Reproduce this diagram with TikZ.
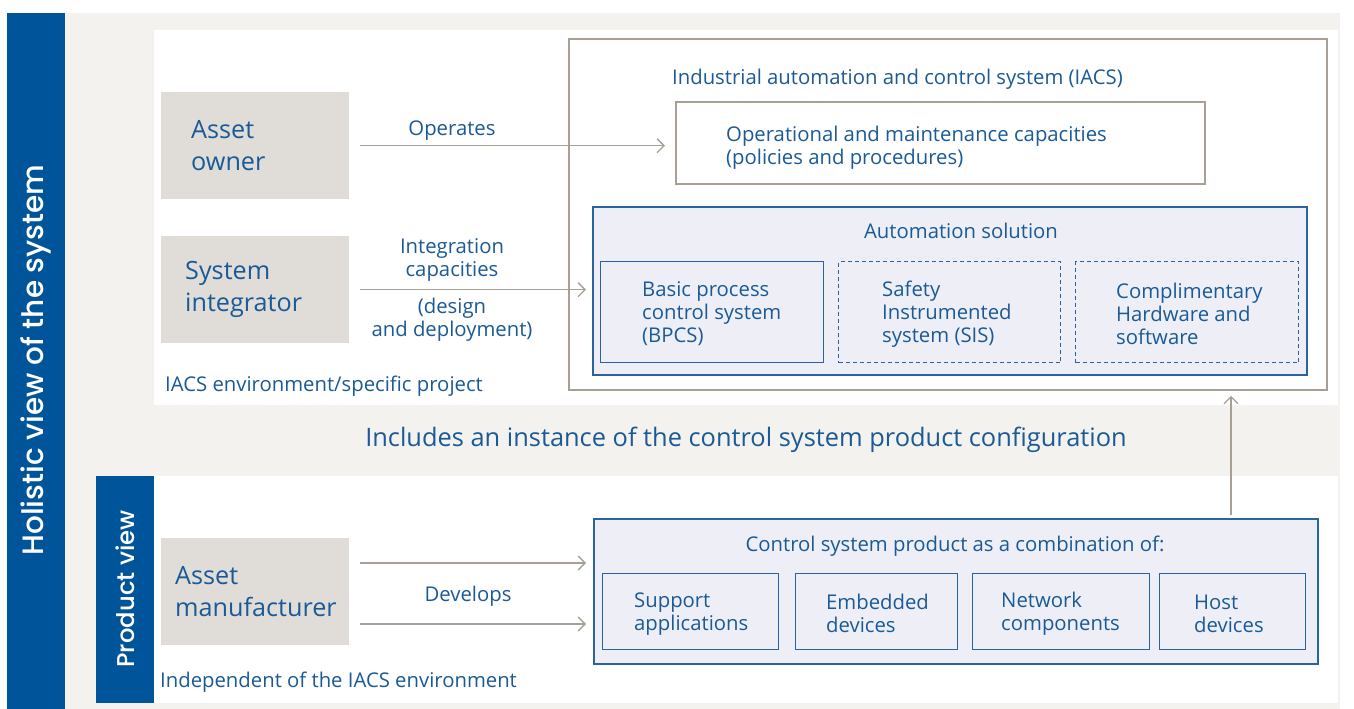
\documentclass[tikz,border=0pt]{standalone}
\usepackage{fontspec}
\setmainfont{Open Sans}
\newfontfamily\rotfont{Poppins Medium}
\usetikzlibrary{arrows.meta,positioning}

\definecolor{barblue}{HTML}{00559A}
\definecolor{txtblue}{HTML}{1A5A96}
\definecolor{bggrey}{HTML}{F3F2EE}
\definecolor{actorfill}{HTML}{E0DDD8}
\definecolor{linegrey}{HTML}{A8A095}
\definecolor{lav}{HTML}{EEEEF7}
\definecolor{boxblue}{HTML}{2A64A0}

\newcommand{\smalltxt}{\fontsize{20.3}{23}\selectfont}
\newcommand{\bigtxt}{\fontsize{25.2}{32}\selectfont}
\newcommand{\midtxt}{\fontsize{25.4}{28}\selectfont}

\begin{document}
\begin{tikzpicture}[x=1pt,y=-1pt,
  actor/.style={fill=actorfill, anchor=north west, minimum width=188pt, minimum height=107pt, inner sep=0pt},
  bigtext/.style={font=\bigtxt, text=txtblue, align=left, inner sep=0pt},
  smalltext/.style={font=\smalltxt, text=txtblue, align=left, inner sep=0pt, yshift=-2pt},
  greybox/.style={draw=linegrey, line width=1.8pt, fill=white, anchor=north west, inner sep=0pt},
  lavbox/.style={draw=boxblue, line width=1.5pt, fill=lav, anchor=north west, inner sep=0pt},
  subbox/.style={draw=boxblue, line width=1.2pt, fill=lav, anchor=north west, inner sep=0pt},
  dashbox/.style={subbox, dash pattern=on 4pt off 3pt},
  flow/.style={draw=linegrey, line width=1.3pt, -{Straight Barb[length=7pt,width=14pt]}},
  sidetext/.style={rotate=90, text=white, font=\rotfont#1},
]
\useasboundingbox (0,0) rectangle (1354,709);

% Backgrounds
\fill[barblue] (7,13) rectangle (65,709);
\fill[bggrey] (65,13) rectangle (1340,709);
\fill[white] (154,30) rectangle (1338,405);
\fill[white] (154,476) rectangle (1338,703);
\fill[barblue] (96,476) rectangle (154,703);

\node[sidetext=\fontsize{29.5}{33}\selectfont] (holistic) at (36,360) {Holistic view of the system};
\node[sidetext=\fontsize{24.3}{27}\selectfont] (prodview) at (125,589) {Product view};

% IACS environment
\node[actor] (owner) at (161,92) {};
\node[bigtext, right=30pt of owner.west] (ownertxt) {Asset\\owner};
\node[actor] (integ) at (161,236) {};
\node[bigtext, right=24pt of integ.west] (integtxt) {System\\integrator};
\node[smalltext, anchor=west] (envtxt) at (165,384) {IACS environment/specific project};

\node[greybox, minimum width=758pt, minimum height=351pt] (iacs) at (568,38) {};
\node[smalltext, anchor=west] (iacstxt) at (672,77) {Industrial automation and control system (IACS)};
\node[greybox, minimum width=529pt, minimum height=82pt] (ops) at (675,101) {};
\node[smalltext, right=51pt of ops.west, yshift=-3pt] (opstxt) {Operational and maintenance capacities\\(policies and procedures)};

\node[lavbox, minimum width=714pt, minimum height=168pt] (auto) at (592,206) {};
\node[smalltext] (autotxt) at (961,229) {Automation solution};
\node[subbox, minimum width=223pt, minimum height=101pt] (bpcs) at (600,261) {};
\node[smalltext, right=42pt of bpcs.west] (bpcstxt) {Basic process\\control system\\(BPCS)};
\node[dashbox, minimum width=222pt, minimum height=101pt] (sis) at (838,261) {};
\node[smalltext, right=44pt of sis.west] (sistxt) {Safety\\Instrumented\\system (SIS)};
\node[dashbox, minimum width=223pt, minimum height=101pt] (comp) at (1075,261) {};
\node[smalltext, right=41pt of comp.west] (comptxt) {Complimentary\\Hardware and\\software};

% Relations
\draw[flow, shorten <=11pt, shorten >=10pt] (owner.east) -- (owner.east -| ops.west);
\node[smalltext] (optxt) at (452,129) {Operates};
\draw[flow, shorten <=11pt, shorten >=6pt] (integ.east) -- (integ.east -| auto.west);
\node[smalltext, align=center] (intcap) at (452,258) {Integration\\capacities};
\node[smalltext, align=center] (intdes) at (452,318) {(design\\and deployment)};

\node[font=\midtxt, text=txtblue, inner sep=0pt] (includes) at (746,440) {Includes an instance of the control system product configuration};

% Product view
\node[actor] (mfr) at (161,538) {};
\node[bigtext, right=14pt of mfr.west] (mfrtxt) {Asset\\manufacturer};
\node[smalltext, anchor=west] (indtxt) at (160,680) {Independent of the IACS environment};

\node[lavbox, minimum width=724pt, minimum height=145pt] (prod) at (593,518) {};
\node[smalltext] (prodtxt) at (955,544) {Control system product as a combination of:};
\foreach \name/\xa/\xb/\off/\txt in {supp/602/778/32/{Support\\applications},
    emb/795/957/31/{Embedded\\devices},
    net/972/1149/29/{Network\\components},
    host/1159/1305/35/{Host\\devices}} {
  \pgfmathsetmacro{\w}{\xb-\xa}
  \node[subbox, minimum width=\w pt, minimum height=76pt] (\name) at (\xa,573) {};
  \node[smalltext, right=\off pt of \name.west] (\name txt) {\txt};
}

\coordinate (devA) at (360,563);
\coordinate (devB) at (360,624);
\draw[flow, shorten >=7pt] (devA) -- (devA -| prod.west);
\draw[flow, shorten >=7pt] (devB) -- (devB -| prod.west);
\node[smalltext] (devtxt) at (468,594) {Develops};

\coordinate (upfoot) at (1231,515);
\draw[flow, shorten >=5pt] (upfoot) -- (upfoot |- iacs.south);
\end{tikzpicture}
\end{document}
